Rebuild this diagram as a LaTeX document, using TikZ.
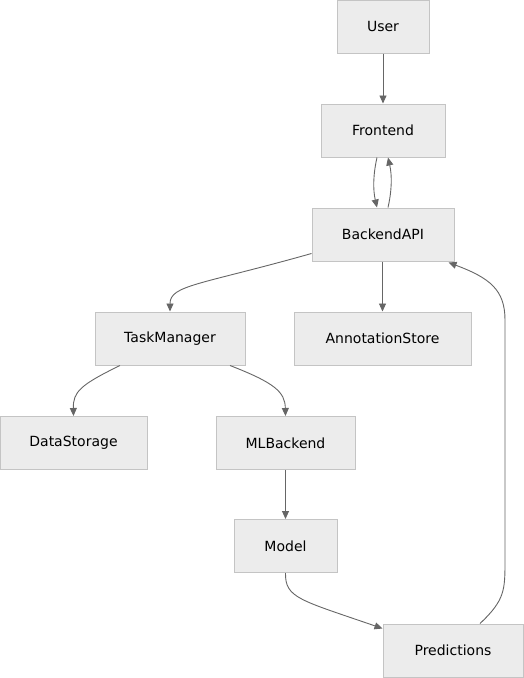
\documentclass[tikz,border=0pt]{standalone}
\usepackage{fontspec}
\setmainfont{DejaVu Sans}
\usetikzlibrary{arrows.meta,calc}
\definecolor{boxfill}{HTML}{ECECEC}
\definecolor{boxline}{HTML}{C4C4C4}
\definecolor{edgecol}{HTML}{666666}
\begin{document}
\begin{tikzpicture}[x=1pt,y=-1pt,
  box/.style={draw=boxline, fill=boxfill, line width=1pt, minimum height=53pt, inner sep=0pt, font=\fontsize{14}{16}\selectfont},
  conn/.style={draw=edgecol, line width=0.9pt, -{Triangle[length=8pt,width=7pt]}}]
\useasboundingbox (0,0) rectangle (523,678);
\node[box, minimum width=92pt]  (user) at (383,26.5) {User};
\node[box, minimum width=124pt] (front) at (383,130.5) {Frontend};
\node[box, minimum width=142pt] (back) at (383,234.5) {BackendAPI};
\node[box, minimum width=150pt] (tm) at (170,338.5) {TaskManager};
\node[box, minimum width=177pt] (ann) at (382.5,338.5) {AnnotationStore};
\node[box, minimum width=147pt] (ds) at (73.5,443) {DataStorage};
\node[box, minimum width=139pt] (ml) at (285.5,443) {MLBackend};
\node[box, minimum width=103pt] (model) at (285.5,546) {Model};
\node[box, minimum width=140pt] (pred) at (453,650.5) {Predictions};

\draw[conn] (user.south) -- (front.north);
\draw[conn] ($(front.south)+(-6,0)$) .. controls (373,175) and (373,190) .. ($(back.north)+(-6,0)$);
\draw[conn] ($(back.north)+(5,0)$) .. controls (392,190) and (392,175) .. ($(front.south)+(5,0)$);
\draw[conn] ($(back.west)+(0,19)$) .. controls (200,285) and (170,285) .. (tm.north);
\draw[conn] (back.south -| ann.north) -- (ann.north);
\draw[conn] ($(tm.south)+(-50,0)$) .. controls (80,385) and (73,392) .. (ds.north);
\draw[conn] ($(tm.south)+(60,0)$) .. controls (275,383) and (285,392) .. (ml.north);
\draw[conn] (ml.south) -- (model.north);
\draw[conn] (model.south) .. controls (285,598) and (300,600) .. ($(pred.west)+(0,-22)$);
\draw[conn] ($(pred.north)+(27,0)$) .. controls (505,600) and (505,590) .. (505,560) -- (505,320) .. controls (505,290) and (490,278) .. ($(back.south east)+(-6,1)$);
\end{tikzpicture}
\end{document}
